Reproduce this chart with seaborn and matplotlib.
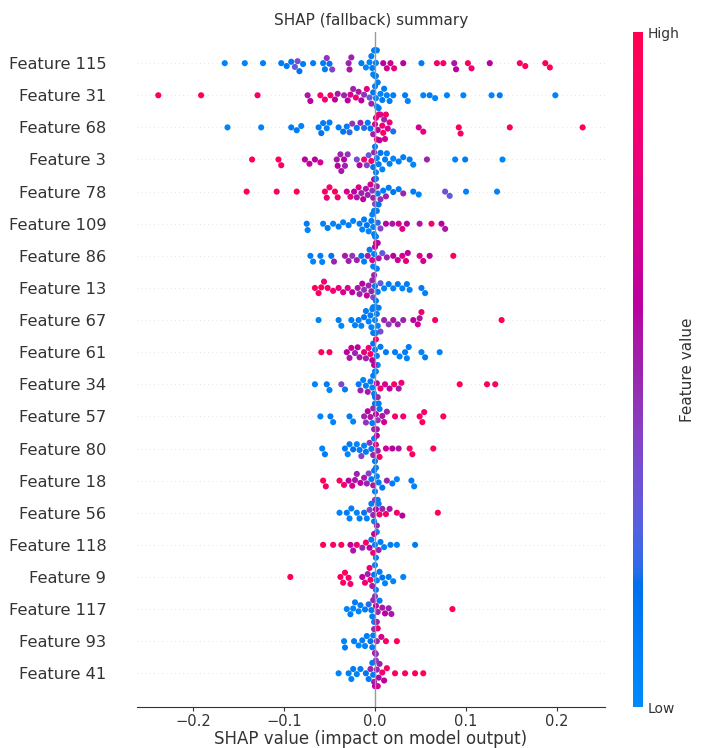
import numpy as np
import pandas as pd
import seaborn as sns
import matplotlib.pyplot as plt
from matplotlib.colors import LinearSegmentedColormap, Normalize
from matplotlib.cm import ScalarMappable

features = ["Feature 115", "Feature 31", "Feature 68", "Feature 3", "Feature 78",
            "Feature 109", "Feature 86", "Feature 13", "Feature 67", "Feature 61",
            "Feature 34", "Feature 57", "Feature 80", "Feature 18", "Feature 56",
            "Feature 118", "Feature 9", "Feature 117", "Feature 93", "Feature 41"]

# shap values / feature values (0 = low, 1 = high)
shap_115 = [-0.165, -0.143, -0.123, -0.103, -0.097, -0.092, -0.088, -0.085, -0.083, -0.079,
            -0.068, -0.057, -0.055, -0.053, -0.050, -0.047, -0.029, -0.028, -0.026, -0.015,
            -0.010, -0.006, -0.003, -0.002, -0.001, 0.0, 0.001, 0.002, 0.009, 0.013,
            0.017, 0.021, 0.031, 0.051, 0.068, 0.075, 0.087, 0.089, 0.102, 0.106,
            0.126, 0.159, 0.165, 0.187, 0.192, -0.004, 0.0, 0.001]
val_115 = [0.05, 0.05, 0.08, 0.1, 0.1, 0.12, 0.3, 0.35, 0.15, 0.1,
           0.1, 0.1, 0.1, 0.45, 0.15, 0.4, 0.5, 0.55, 0.5, 0.1,
           0.05, 0.05, 0.1, 0.05, 0.15, 0.05, 0.1, 0.1, 0.6, 0.7,
           0.65, 0.8, 0.6, 0.1, 0.85, 0.9, 0.55, 0.6, 0.95, 0.85,
           0.6, 0.9, 0.95, 1.0, 0.95, 0.1, 0.05, 0.1]

shap_31 = [-0.238, -0.191, -0.129, -0.074, -0.071, -0.060, -0.055, -0.049, -0.044, -0.041,
           -0.034, -0.030, -0.027, -0.024, -0.021, -0.018, -0.015, -0.012, -0.009, -0.006,
           -0.004, -0.002, 0.0, 0.002, 0.004, 0.006, 0.008, 0.010, 0.013, 0.016,
           0.020, 0.033, 0.036, 0.053, 0.060, 0.066, 0.079, 0.097, 0.128, 0.137,
           0.198, 0.001, 0.003]
val_31 = [0.95, 0.95, 0.9, 0.55, 0.6, 0.9, 0.85, 0.9, 0.6, 0.55,
          0.5, 0.6, 0.7, 0.5, 0.85, 0.55, 0.6, 0.45, 0.8, 0.3,
          0.5, 0.15, 0.1, 0.05, 0.1, 0.05, 0.1, 0.1, 0.05, 0.1,
          0.1, 0.1, 0.05, 0.05, 0.1, 0.05, 0.05, 0.05, 0.05, 0.1,
          0.05, 0.05, 0.1]

shap_68 = [-0.162, -0.125, -0.092, -0.086, -0.081, -0.062, -0.059, -0.057, -0.053, -0.050,
           -0.040, -0.035, -0.031, -0.028, -0.025, -0.020, -0.016, -0.012, -0.008, -0.005,
           -0.002, 0.0, 0.001, 0.003, 0.004, 0.006, 0.008, 0.010, 0.012, 0.014,
           0.016, 0.020, 0.048, 0.053, 0.092, 0.094, 0.148, 0.228, 0.002, 0.005,
           0.009, 0.011]
val_68 = [0.05, 0.05, 0.1, 0.1, 0.05, 0.1, 0.15, 0.1, 0.05, 0.1,
          0.1, 0.15, 0.1, 0.2, 0.45, 0.15, 0.5, 0.2, 0.1, 0.15,
          0.55, 0.7, 0.8, 0.6, 0.9, 0.75, 0.85, 0.5, 0.9, 0.7,
          0.8, 0.2, 0.7, 0.8, 0.95, 0.9, 0.95, 0.95, 0.85, 0.6,
          0.9, 0.7]

shap_3 = [-0.135, -0.106, -0.103, -0.077, -0.072, -0.066, -0.060, -0.042, -0.041, -0.038,
          -0.037, -0.034, -0.033, -0.030, -0.020, -0.017, -0.012, -0.009, -0.007, -0.004,
          -0.002, 0.0, 0.002, 0.004, 0.006, 0.008, 0.011, 0.013, 0.016, 0.020,
          0.026, 0.031, 0.038, 0.042, 0.057, 0.088, 0.099, 0.140, -0.001, 0.001]
val_3 = [0.95, 0.95, 0.9, 0.6, 0.65, 0.6, 0.7, 0.55, 0.6, 0.5,
         0.55, 0.6, 0.5, 0.45, 0.35, 0.6, 0.85, 0.4, 0.3, 0.9,
         0.15, 0.1, 0.05, 0.1, 0.15, 0.05, 0.1, 0.05, 0.1, 0.05,
         0.1, 0.1, 0.1, 0.05, 0.5, 0.05, 0.1, 0.05, 0.5, 0.1]

shap_78 = [-0.141, -0.108, -0.086, -0.055, -0.053, -0.050, -0.044, -0.041, -0.031, -0.027,
           -0.023, -0.020, -0.018, -0.015, -0.013, -0.010, -0.008, -0.005, -0.003, -0.001,
           0.0, 0.002, 0.004, 0.006, 0.009, 0.012, 0.015, 0.020, 0.026, 0.031,
           0.042, 0.048, 0.077, 0.082, 0.100, 0.134, -0.002, 0.001, 0.003]
val_78 = [0.95, 0.9, 0.95, 0.9, 0.85, 0.9, 0.95, 0.9, 0.7, 0.8,
          0.6, 0.55, 0.75, 0.5, 0.6, 0.55, 0.5, 0.7, 0.45, 0.6,
          0.4, 0.5, 0.15, 0.45, 0.1, 0.5, 0.1, 0.15, 0.1, 0.5,
          0.1, 0.05, 0.35, 0.3, 0.05, 0.05, 0.5, 0.15, 0.1]

shap_109 = [-0.075, -0.074, -0.057, -0.052, -0.046, -0.040, -0.035, -0.029, -0.024, -0.017,
            -0.014, -0.012, -0.009, -0.007, -0.004, -0.002, -0.001, 0.0, 0.001, 0.003,
            0.006, 0.012, 0.019, 0.026, 0.030, 0.035, 0.049, 0.062, 0.073, 0.077,
            -0.003, -0.001, 0.0, 0.002]
val_109 = [0.1, 0.05, 0.05, 0.1, 0.05, 0.1, 0.05, 0.1, 0.05, 0.1,
           0.05, 0.1, 0.15, 0.05, 0.1, 0.05, 0.1, 0.1, 0.05, 0.2,
           0.4, 0.6, 0.55, 0.7, 0.75, 0.6, 0.55, 0.9, 0.6, 0.55,
           0.05, 0.1, 0.05, 0.1]

shap_86 = [-0.071, -0.068, -0.060, -0.058, -0.048, -0.045, -0.033, -0.029, -0.025, -0.020,
           -0.015, -0.012, -0.008, -0.006, -0.003, -0.002, 0.0, 0.001, 0.002, 0.004,
           0.008, 0.013, 0.020, 0.025, 0.030, 0.034, 0.036, 0.049, 0.053, 0.060,
           0.086, -0.001, 0.003]
val_86 = [0.1, 0.05, 0.1, 0.05, 0.15, 0.5, 0.55, 0.5, 0.45, 0.5,
          0.15, 0.1, 0.55, 0.1, 0.7, 0.05, 0.6, 0.8, 0.1, 0.55,
          0.3, 0.5, 0.6, 0.65, 0.7, 0.8, 0.6, 0.75, 0.7, 0.6,
          0.95, 0.1, 0.6]

shap_13 = [-0.066, -0.062, -0.059, -0.056, -0.052, -0.046, -0.040, -0.035, -0.030, -0.025,
           -0.019, -0.017, -0.014, -0.012, -0.009, -0.007, -0.004, -0.002, 0.0, 0.001,
           0.003, 0.006, 0.010, 0.015, 0.020, 0.025, 0.030, 0.035, 0.038, 0.051,
           0.055, -0.003, -0.001]
val_13 = [0.95, 0.9, 0.95, 0.85, 0.9, 0.85, 0.8, 0.7, 0.75, 0.6,
          0.55, 0.5, 0.6, 0.45, 0.65, 0.5, 0.5, 0.4, 0.15, 0.1,
          0.1, 0.3, 0.05, 0.1, 0.05, 0.1, 0.05, 0.1, 0.05, 0.1,
          0.05, 0.5, 0.5]

shap_67 = [-0.062, -0.040, -0.037, -0.026, -0.022, -0.018, -0.015, -0.012, -0.010, -0.007,
           -0.005, -0.003, -0.002, -0.001, 0.0, 0.001, 0.002, 0.004, 0.006, 0.010,
           0.015, 0.020, 0.025, 0.031, 0.042, 0.047, 0.049, 0.051, 0.066, 0.139,
           -0.004, -0.002, 0.0, 0.001, 0.003]
val_67 = [0.05, 0.1, 0.05, 0.1, 0.05, 0.1, 0.05, 0.15, 0.1, 0.05,
          0.1, 0.05, 0.1, 0.1, 0.05, 0.15, 0.1, 0.1, 0.35, 0.5,
          0.45, 0.55, 0.5, 0.5, 0.6, 0.7, 0.55, 0.85, 0.9, 0.95,
          0.05, 0.1, 0.05, 0.1, 0.05]

shap_61 = [-0.059, -0.050, -0.031, -0.028, -0.026, -0.022, -0.019, -0.017, -0.012, -0.010,
           -0.007, -0.005, -0.003, -0.002, 0.0, 0.001, 0.003, 0.006, 0.012, 0.022,
           0.027, 0.033, 0.035, 0.037, 0.051, 0.055, 0.071, -0.001, 0.002]
val_61 = [0.95, 0.9, 0.6, 0.55, 0.65, 0.5, 0.6, 0.55, 0.8, 0.5,
          0.85, 0.9, 0.6, 0.15, 0.1, 0.9, 0.05, 0.1, 0.1, 0.1,
          0.05, 0.1, 0.05, 0.1, 0.05, 0.1, 0.05, 0.6, 0.1]

shap_34 = [-0.066, -0.053, -0.050, -0.037, -0.033, -0.018, -0.016, -0.013, -0.010, -0.008,
           -0.005, -0.003, -0.001, 0.0, 0.001, 0.002, 0.006, 0.011, 0.016, 0.021,
           0.026, 0.029, 0.093, 0.123, 0.132, -0.002, 0.0, 0.003]
val_34 = [0.05, 0.1, 0.05, 0.4, 0.1, 0.1, 0.5, 0.05, 0.1, 0.55,
          0.1, 0.05, 0.1, 0.15, 0.05, 0.6, 0.85, 0.7, 0.6, 0.9,
          0.55, 0.85, 0.95, 0.95, 0.9, 0.1, 0.05, 0.5]

shap_57 = [-0.060, -0.049, -0.046, -0.028, -0.024, -0.012, -0.010, -0.008, -0.005, -0.003,
           -0.002, 0.0, 0.001, 0.003, 0.005, 0.008, 0.010, 0.013, 0.022, 0.031,
           0.049, 0.052, 0.054, 0.075, -0.001, 0.002, 0.004]
val_57 = [0.05, 0.1, 0.05, 0.1, 0.05, 0.5, 0.45, 0.6, 0.55, 0.1,
          0.5, 0.15, 0.6, 0.45, 0.1, 0.55, 0.7, 0.5, 0.9, 0.85,
          0.9, 0.95, 0.9, 0.95, 0.5, 0.55, 0.1]

shap_80 = [-0.058, -0.055, -0.033, -0.030, -0.028, -0.024, -0.020, -0.017, -0.015, -0.012,
           -0.010, -0.006, -0.004, -0.002, 0.0, 0.001, 0.003, 0.005, 0.012, 0.019,
           0.026, 0.038, 0.041, 0.064, -0.001, 0.002]
val_80 = [0.05, 0.1, 0.1, 0.05, 0.1, 0.15, 0.05, 0.1, 0.4, 0.05,
          0.1, 0.45, 0.1, 0.5, 0.15, 0.8, 0.5, 0.9, 0.7, 0.6,
          0.55, 0.9, 0.95, 0.95, 0.1, 0.6]

shap_18 = [-0.057, -0.054, -0.039, -0.034, -0.029, -0.025, -0.022, -0.020, -0.016, -0.012,
           -0.009, -0.007, -0.004, -0.002, 0.0, 0.002, 0.004, 0.008, 0.013, 0.019,
           0.024, 0.040, 0.043, -0.001, 0.001]
val_18 = [0.95, 0.9, 0.9, 0.85, 0.6, 0.7, 0.55, 0.5, 0.6, 0.55,
          0.5, 0.4, 0.1, 0.55, 0.1, 0.05, 0.1, 0.15, 0.5, 0.1,
          0.05, 0.1, 0.05, 0.1, 0.1]

shap_56 = [-0.039, -0.031, -0.028, -0.026, -0.020, -0.017, -0.012, -0.009, -0.006, -0.004,
           -0.002, 0.0, 0.001, 0.003, 0.005, 0.008, 0.012, 0.016, 0.024, 0.030,
           0.069, -0.001, 0.002, 0.004]
val_56 = [0.05, 0.1, 0.05, 0.1, 0.05, 0.1, 0.15, 0.05, 0.4, 0.1,
          0.5, 0.45, 0.6, 0.1, 0.85, 0.5, 0.9, 0.55, 0.9, 0.6,
          0.95, 0.1, 0.5, 0.1]

shap_118 = [-0.057, -0.046, -0.037, -0.027, -0.024, -0.020, -0.014, -0.010, -0.006, -0.004,
            -0.002, 0.0, 0.002, 0.004, 0.006, 0.010, 0.017, 0.024, 0.044, -0.001,
            0.001]
val_118 = [0.95, 0.9, 0.95, 0.6, 0.55, 0.85, 0.5, 0.9, 0.6, 0.1,
           0.85, 0.1, 0.05, 0.5, 0.1, 0.05, 0.1, 0.05, 0.1, 0.6,
           0.1]

shap_9 = [-0.093, -0.038, -0.035, -0.033, -0.029, -0.027, -0.014, -0.011, -0.008, -0.005,
          -0.003, -0.001, 0.0, 0.002, 0.005, 0.008, 0.011, 0.015, 0.020, 0.031,
          -0.006, 0.001]
val_9 = [0.95, 0.95, 0.9, 0.95, 0.9, 0.85, 0.6, 0.85, 0.5, 0.9,
         0.55, 0.15, 0.1, 0.05, 0.1, 0.15, 0.05, 0.1, 0.05, 0.05,
         0.85, 0.1]

shap_117 = [-0.031, -0.027, -0.024, -0.022, -0.018, -0.016, -0.011, -0.007, -0.004, -0.002,
            0.0, 0.001, 0.003, 0.005, 0.008, 0.011, 0.015, 0.018, 0.085, -0.001,
            0.002, -0.003]
val_117 = [0.05, 0.1, 0.05, 0.1, 0.05, 0.1, 0.1, 0.2, 0.1, 0.5,
           0.45, 0.6, 0.5, 0.1, 0.55, 0.6, 0.5, 0.55, 0.95, 0.1,
           0.5, 0.1]

shap_93 = [-0.034, -0.033, -0.023, -0.018, -0.014, -0.011, -0.009, -0.005, -0.003, -0.001,
           0.0, 0.001, 0.003, 0.007, 0.012, 0.024, -0.002, 0.002]
val_93 = [0.05, 0.1, 0.1, 0.05, 0.1, 0.05, 0.1, 0.15, 0.1, 0.5,
          0.6, 0.45, 0.85, 0.7, 0.9, 0.95, 0.1, 0.5]

shap_41 = [-0.040, -0.029, -0.026, -0.024, -0.020, -0.016, -0.010, -0.007, -0.005, -0.003,
           -0.001, 0.0, 0.001, 0.003, 0.005, 0.008, 0.010, 0.013, 0.022, 0.033,
           0.044, 0.053, -0.002, 0.002, 0.004]
val_41 = [0.05, 0.1, 0.05, 0.1, 0.05, 0.1, 0.15, 0.1, 0.5, 0.1,
          0.55, 0.6, 0.4, 0.7, 0.5, 0.85, 0.6, 0.9, 0.95, 0.9,
          0.95, 0.95, 0.1, 0.5, 0.6]

shap_lists = [shap_115, shap_31, shap_68, shap_3, shap_78, shap_109, shap_86, shap_13,
              shap_67, shap_61, shap_34, shap_57, shap_80, shap_18, shap_56, shap_118,
              shap_9, shap_117, shap_93, shap_41]
val_lists = [val_115, val_31, val_68, val_3, val_78, val_109, val_86, val_13,
             val_67, val_61, val_34, val_57, val_80, val_18, val_56, val_118,
             val_9, val_117, val_93, val_41]

rows = []
for name, s, v in zip(features, shap_lists, val_lists):
    assert len(s) == len(v), name
    for a, b in zip(s, v):
        rows.append((name, a, b))
df = pd.DataFrame(rows, columns=["feature", "shap", "value"])


# shap-style red/blue colormap (interpolated in Lch space)
def lch2rgb(l, c, h):
    a = c * np.cos(h)
    b = c * np.sin(h)
    fy = (l + 16) / 116
    fx = fy + a / 500
    fz = fy - b / 200

    def finv(t):
        return np.where(t ** 3 > 0.008856, t ** 3, (t - 16 / 116) / 7.787)

    X = 0.95047 * finv(fx)
    Y = finv(fy)
    Z = 1.08883 * finv(fz)
    r = 3.2406 * X - 1.5372 * Y - 0.4986 * Z
    g = -0.9689 * X + 1.8758 * Y + 0.0415 * Z
    bl = 0.0557 * X - 0.2040 * Y + 1.0570 * Z
    lin = np.clip(np.stack([r, g, bl], axis=-1), 0, 1)
    srgb = np.where(lin <= 0.0031308, 12.92 * lin, 1.055 * lin ** (1 / 2.4) - 0.055)
    return np.clip(srgb, 0, 1)


n = 100
blue_lch = [54., 70., 4.6588]
red_lch = [54., 90., 0.35470565 + 2 * np.pi]
l_vals = np.concatenate([np.linspace(blue_lch[0], 40., n // 2), np.linspace(40., red_lch[0], n // 2)])
c_vals = np.linspace(blue_lch[1], red_lch[1], n)
h_vals = np.linspace(blue_lch[2], red_lch[2], n)
red_blue = LinearSegmentedColormap.from_list("red_blue", lch2rgb(l_vals, c_vals, h_vals))

sns.set_style("white")
fig = plt.figure(figsize=(7.02, 7.48), dpi=100)
ax = fig.add_axes([0.195, 0.0548, 0.667, 0.9024])
cax = fig.add_axes([0.9017, 0.0548, 0.0142, 0.9024])

for i in range(len(features)):
    ax.axhline(i, color="#cccccc", lw=0.5, dashes=(1, 5), zorder=-1)

sns.swarmplot(data=df, x="shap", y="feature", hue="value", order=features,
              palette=red_blue, hue_norm=(0, 1), size=4.4, linewidth=0,
              legend=False, ax=ax, zorder=2, warn_thresh=1)
ax.axvline(0, color="#999999", lw=1, zorder=3)

ax.set_xlim(-0.2615, 0.2527)
ax.set_ylim(20.05, -0.97)
ax.set_xticks([-0.2, -0.1, 0.0, 0.1, 0.2])
ax.set_xlabel("SHAP value (impact on model output)", fontsize=12, color="#333333", labelpad=1)
ax.set_ylabel("")
ax.set_title("SHAP (fallback) summary", fontsize=11, color="#333333", pad=5)
ax.tick_params(axis="y", length=0, pad=22, labelsize=11.7, labelcolor="#333333")
ax.tick_params(axis="x", labelsize=10.5, labelcolor="#333333", color="#333333",
               bottom=True, length=3, pad=2)
for side in ["top", "right", "left"]:
    ax.spines[side].set_visible(False)
ax.spines["bottom"].set_color("#333333")

sm = ScalarMappable(cmap=red_blue, norm=Normalize(0, 1))
cb = fig.colorbar(sm, cax=cax, ticks=[0, 1])
cb.set_ticklabels(["Low", "High"])
cb.outline.set_visible(False)
cb.set_label("Feature value", size=11, labelpad=0, color="#333333")
cax.tick_params(length=0, labelsize=10, labelcolor="#333333")

fig.savefig("out.png", dpi=100)
